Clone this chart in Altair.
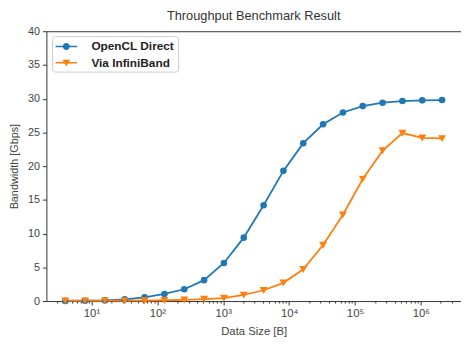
import altair as alt
import pandas as pd

sizes = [4, 8, 16, 32, 64, 128, 256, 512, 1024, 2048, 4096, 8192, 16384,
         32768, 65536, 131072, 262144, 524288, 1048576, 2097152]
opencl_direct = [0.02, 0.05, 0.1, 0.25, 0.55, 1.05, 1.75, 3.1, 5.65, 9.4, 14.2,
                 19.3, 23.4, 26.2, 27.95, 28.9, 29.4, 29.65, 29.75, 29.8]
via_infiniband = [0.05, 0.05, 0.05, 0.05, 0.08, 0.12, 0.18, 0.28, 0.45, 0.9, 1.6,
                  2.7, 4.7, 8.3, 12.8, 18.1, 22.3, 24.9, 24.2, 24.1]
series_names = ["OpenCL Direct", "Via InfiniBand"]
colors = ["#1f77b4", "#ff7f0e"]

rows = []
for s, vals in zip(series_names, [opencl_direct, via_infiniband]):
    for x, v in zip(sizes, vals):
        rows.append({"size": x, "bw": v, "series": s})
df = pd.DataFrame(rows)

major = [10, 100, 1000, 10000, 100000, 1000000]
minor = [m * 10 ** k for k in range(0, 7) for m in range(2, 10)
         if 2.07 <= m * 10 ** k <= 4.06e6]
tick_vals = sorted(major + minor)
sup = {10: "10¹", 100: "10²", 1000: "10³", 10000: "10⁴", 100000: "10⁵", 1000000: "10⁶"}
label_expr = " : ".join(f"datum.value == {k} ? '{v}'" for k, v in sup.items()) + " : ''"
major_test = "indexof([10,100,1000,10000,100000,1000000], datum.value) >= 0"

xscale = alt.Scale(type="log", domain=[2.07, 4.06e6], nice=False)
yscale = alt.Scale(domain=[0, 40], nice=False)

xenc = alt.X("size:Q", scale=xscale, title="Data Size [B]",
             axis=alt.Axis(values=tick_vals, labelExpr=label_expr, grid=False, domain=False,
                           tickSize={"condition": {"test": major_test, "value": 4}, "value": 2},
                           tickColor="#333", labelColor="#444", labelFontSize=11.5,
                           labelFont="Liberation Sans", labelOverlap=False, labelFlush=False,
                           labelPadding=3, titleFont="Liberation Sans", titleFontSize=11.5,
                           titleFontWeight="normal", titleColor="#444", titlePadding=6))
yenc = alt.Y("bw:Q", scale=yscale, title="Bandwidth [Gbps]",
             axis=alt.Axis(values=[0, 5, 10, 15, 20, 25, 30, 35, 40], grid=False, domain=False,
                           tickSize=4, tickColor="#333", labelColor="#444", labelFontSize=11,
                           labelFont="Liberation Sans", labelPadding=3,
                           titleFont="Liberation Sans", titleFontSize=11,
                           titleFontWeight="normal", titleColor="#444", titlePadding=8))

cscale = alt.Scale(domain=series_names, range=colors)
base = alt.Chart(df)

lines = base.mark_line(strokeWidth=1.8).encode(
    x=xenc, y=yenc, color=alt.Color("series:N", scale=cscale, legend=None))

tri_marker = "M-1.2,-1L1.2,-1L0,1.1Z"
points = base.mark_point(filled=True, opacity=1, size=45).encode(
    x=xenc, y=yenc,
    color=alt.Color("series:N", scale=cscale, legend=None),
    shape=alt.Shape("series:N", scale=alt.Scale(domain=series_names,
                                                 range=["circle", tri_marker]),
                    legend=None))

circle_path = ("M-1.45,-0.11L1.45,-0.11L1.45,0.11L-1.45,0.11Z"
               "M0.47,0A0.47,0.47 0 1,1 -0.47,0A0.47,0.47 0 1,1 0.47,0Z")
tri_path = ("M-1.45,-0.11L1.45,-0.11L1.45,0.11L-1.45,0.11Z"
            "M-0.53,-0.42L0.53,-0.42L0,0.5Z")

leg = alt.Legend(title=None, orient="none", legendX=5.7, legendY=5, symbolSize=225,
                 labelFont="Liberation Sans", labelFontSize=12, labelColor="#222",
                 labelFontWeight="bold", strokeColor="#ccc", fillColor="white",
                 cornerRadius=3, padding=3, rowPadding=2.5, labelOffset=18,
                 symbolOffset=4, symbolStrokeWidth=0, symbolOpacity=1)

legend_layer = base.mark_point(filled=True, size=225).encode(
    x=xenc, y=yenc,
    color=alt.Color("series:N", scale=cscale, legend=leg),
    shape=alt.Shape("series:N", scale=alt.Scale(domain=series_names,
                                                 range=[circle_path, tri_path]),
                    legend=leg)).transform_filter("datum.bw < -1")

chart = alt.layer(lines, points, legend_layer).resolve_scale(
    shape="independent", color="independent").properties(
    width=421, height=274,
    autosize=alt.AutoSizeParams(type="none"),
    padding={"left": 39, "top": 21, "right": 0, "bottom": 40},
    title=alt.TitleParams("Throughput Benchmark Result", fontSize=13, fontWeight="normal",
                          color="#333", font="Liberation Sans", anchor="middle", offset=2),
    background="white",
).configure_view(stroke="#333", strokeWidth=1)

chart.save("out.html", embed_options={"renderer": "svg", "actions": False})
